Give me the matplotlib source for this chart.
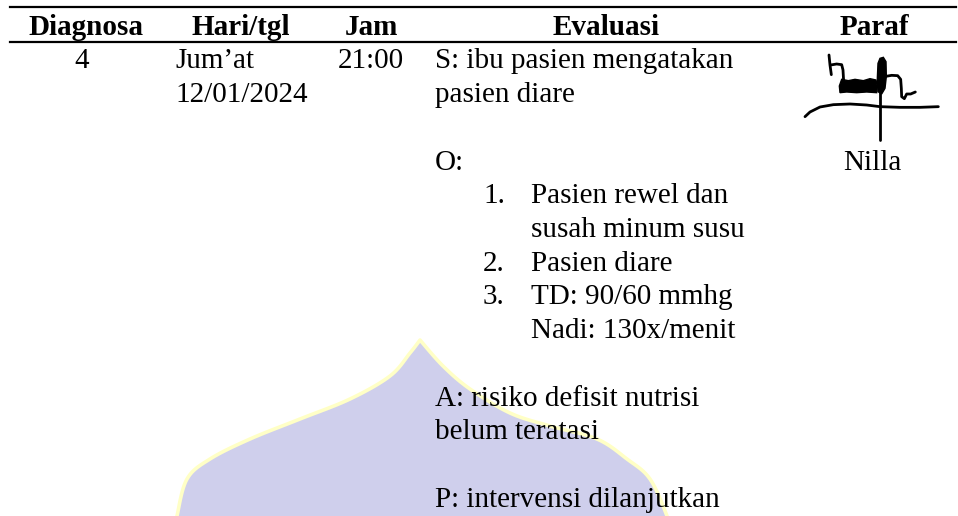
import matplotlib
matplotlib.use("Agg")
import numpy as np
import matplotlib.pyplot as plt
from matplotlib.patches import Polygon

# ---- table content ----
headers = ["Diagnosa", "Hari/tgl", "Jam", "Evaluasi", "Paraf"]
diagnosa = "4"
hari = ["Jum\u2019at", "12/01/2024"]
jam = "21:00"
# (line index, list number, text, indent level)
evaluasi = [
    (0, "", "S: ibu pasien mengatakan", 0),
    (1, "", "pasien diare", 0),
    (3, "", "O:", 0),
    (4, "1.", "Pasien rewel dan", 1),
    (5, "", "susah minum susu", 1),
    (6, "2.", "Pasien diare", 1),
    (7, "3.", "TD: 90/60 mmhg", 1),
    (8, "", "Nadi: 130x/menit", 1),
    (10, "", "A: risiko defisit nutrisi", 0),
    (11, "", "belum teratasi", 0),
    (13, "", "P: intervensi dilanjutkan", 0),
]
paraf_name = "Nilla"
paraf_line = 3

# ---- layout (pixel space) ----
W, H = 958, 516
FS = 21
font = "Liberation Serif"
header_x = [86, 241, 371, 606, 874]
header_base = 35
row_base = 68.5
line_h = 33.7
x_hari, x_jam, x_eval0, x_num, x_eval1 = 175, 338, 435, 483, 531

fig = plt.figure(figsize=(W / 100, H / 100), dpi=100)
ax = fig.add_axes([0, 0, 1, 1])
ax.set_xlim(0, W)
ax.set_ylim(H, 0)
ax.axis("off")


def catmull(pts, n=12):
    p = np.array(pts, float)
    p = np.vstack([p[0], p, p[-1]])
    out = []
    for i in range(1, len(p) - 2):
        p0, p1, p2, p3 = p[i - 1], p[i], p[i + 1], p[i + 2]
        for t in np.linspace(0, 1, n, endpoint=False):
            t2, t3 = t * t, t * t * t
            out.append(0.5 * ((2 * p1) + (-p0 + p2) * t + (2 * p0 - 5 * p1 + 4 * p2 - p3) * t2
                              + (-p0 + 3 * p1 - 3 * p2 + p3) * t3))
    out.append(p[-2])
    return np.array(out)


# watermark dome outline (decorative)
dome_left = [(175, 530), (177, 516), (187, 479), (210, 459), (250, 439), (300, 419),
             (350, 399), (390, 376), (410, 353), (420, 340)]
dome_right = [(420, 340), (443, 366), (470, 389), (510, 413), (550, 426), (597, 439),
              (627, 459), (650, 479), (667, 516), (670, 530)]
outline = np.vstack([catmull(dome_left), catmull(dome_right)[1:]])
ax.add_patch(Polygon(outline, closed=True, facecolor="#CFCFEC",
                     edgecolor="#FFFFC6", lw=2.6, zorder=1, joinstyle="round"))

# rules
ax.plot([10, 956], [7.3, 7.3], color="black", lw=1.6, zorder=3)
ax.plot([10, 956], [42.3, 42.3], color="black", lw=1.6, zorder=3)

for hx, h in zip(header_x, headers):
    ax.text(hx, header_base, h, ha="center", va="baseline", fontsize=FS,
            fontweight="bold", family=font, zorder=4)


def yb(i):
    return row_base + i * line_h


ax.text(82, yb(0), diagnosa, ha="center", va="baseline", fontsize=FS, family=font, zorder=4)
for i, t in enumerate(hari):
    ax.text(x_hari, yb(i), t, ha="left", va="baseline", fontsize=FS, family=font, zorder=4)
ax.text(x_jam, yb(0), jam, ha="left", va="baseline", fontsize=FS, family=font, zorder=4)

for idx, num, txt, lvl in evaluasi:
    if num:
        ax.text(x_num, yb(idx), num, ha="left", va="baseline", fontsize=FS, family=font, zorder=4)
    ax.text(x_eval0 if lvl == 0 else x_eval1, yb(idx), txt, ha="left", va="baseline",
            fontsize=FS, family=font, zorder=4)

ax.text(872, yb(paraf_line), paraf_name, ha="center", va="baseline", fontsize=FS,
        family=font, zorder=4)


# signature (decorative), in 3x-zoom coords of origin (800, 50)
def sig(pts):
    return [800 + x / 3 for x, y in pts], [50 + y / 3 for x, y in pts]


strokes = [
    [(87, 15), (90, 45), (94, 74)],
    [(92, 45), (110, 42), (125, 44), (129, 60), (131, 95)],
    [(252, 80), (275, 76), (293, 77), (302, 88), (304, 115), (305, 140), (313, 146),
     (320, 132), (332, 132), (346, 126)],
    [(15, 200), (30, 186), (60, 171), (100, 164), (150, 162), (200, 165), (240, 170),
     (300, 172), (360, 172), (415, 170)],
    [(240, 125), (240, 270)],
]
for s in strokes:
    xs, ys = sig(s)
    ax.plot(xs, ys, color="black", lw=2.0, solid_capstyle="round",
            solid_joinstyle="round", zorder=4)
blob = [(125, 88), (145, 92), (165, 88), (190, 92), (210, 86), (228, 90), (232, 110),
        (230, 128), (200, 126), (170, 128), (140, 126), (120, 128), (118, 108)]
loop = [(234, 40), (240, 25), (250, 22), (258, 35), (259, 80), (255, 115), (245, 132),
        (234, 125), (232, 85)]
for poly in (blob, loop):
    xs, ys = sig(poly)
    ax.fill(xs, ys, color="black", zorder=4)

fig.savefig("out.png", dpi=100)
